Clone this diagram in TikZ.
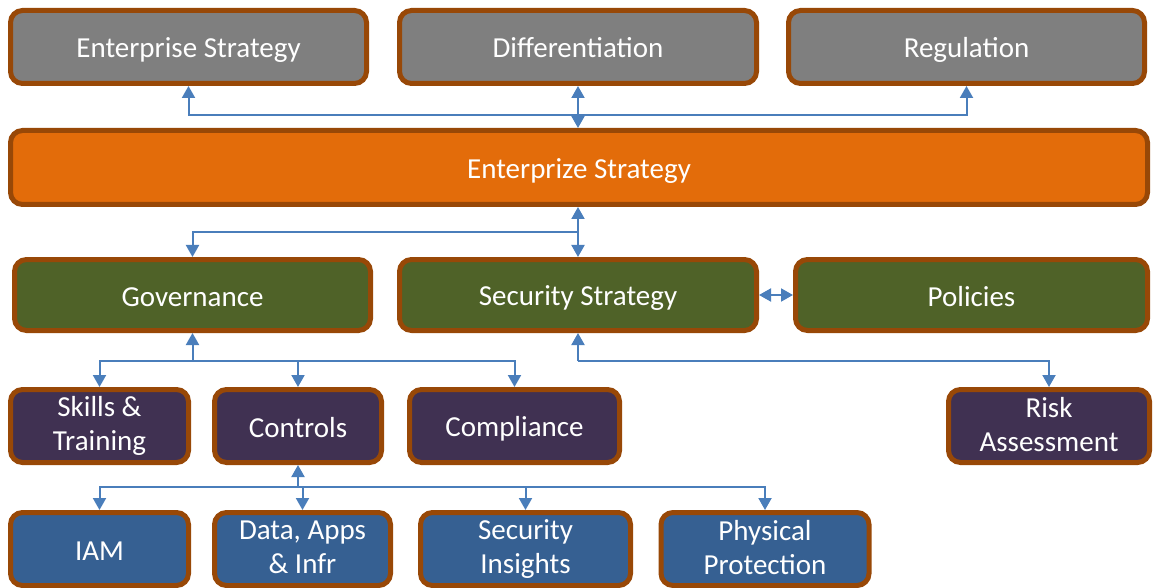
\documentclass[tikz,border=0pt]{standalone}
\usepackage{fontspec}
\setmainfont{Carlito}
\usetikzlibrary{arrows.meta}

\definecolor{rim}{HTML}{984807}
\definecolor{wire}{HTML}{4A7EBB}
\definecolor{greybox}{HTML}{7F7F7F}
\definecolor{orangebox}{HTML}{E36C0A}
\definecolor{greenbox}{HTML}{4F6228}
\definecolor{purplebox}{HTML}{403152}
\definecolor{bluebox}{HTML}{366092}

% keeps one-line and two-line labels on the same optical centre
\newcommand\boxstrut{\rule[-4pt]{0pt}{30pt}}

\begin{document}
\begin{tikzpicture}[
  x=1pt, y=-1pt,
  box/.style={draw=rim, line width=5pt, rounded corners=12pt, text=white, align=center,
    font=\fontsize{29}{34}\selectfont, inner sep=0pt, minimum height=73pt,
    execute at begin node=\boxstrut, execute at end node=\boxstrut},
  grey/.style={box, fill=greybox},
  orange/.style={box, fill=orangebox},
  green/.style={box, fill=greenbox, minimum height=71pt},
  purple/.style={box, fill=purplebox},
  blue/.style={box, fill=bluebox},
  conn/.style={draw=wire, line width=2pt, arrows={-Triangle[width=13pt, length=12pt]}},
  both/.style={conn, arrows={Triangle[width=13pt, length=12pt]-Triangle[width=13pt, length=12pt]}},
]
  \useasboundingbox (0,0) rectangle (1154,588);

  % drivers
  \node[grey, minimum width=356pt] (ent) at (188.5,47) {Enterprise Strategy};
  \node[grey, minimum width=357pt] (diff) at (578,47) {Differentiation};
  \node[grey, minimum width=356pt] (reg) at (966.5,47) {Regulation};

  \node[orange, minimum width=1137pt, minimum height=74pt] (bar) at (579,167.5) {Enterprize Strategy};

  % strategy level
  \node[green, minimum width=356pt] (gov) at (192.5,295) {Governance};
  \node[green, minimum width=357pt] (sec) at (578,295) {Security Strategy};
  \node[green, minimum width=352pt] (pol) at (971.5,295) {Policies};

  % functions
  \node[purple, minimum width=178pt] (skills) at (99.5,426) {Skills \&\\Training};
  \node[purple, minimum width=167pt] (ctrl) at (298,426) {Controls};
  \node[purple, minimum width=210pt] (comp) at (514.5,426) {Compliance};
  \node[purple, minimum width=201pt] (risk) at (1049,426) {Risk\\Assessment};

  % control areas
  \node[blue, minimum width=178pt] (iam) at (99.5,549) {IAM};
  \node[blue, minimum width=176pt] (data) at (302.5,549) {Data, Apps\\\& Infr};
  \node[blue, minimum width=210pt] (ins) at (525.5,549) {Security\\Insights};
  \node[blue, minimum width=208pt] (phys) at (765,549) {Physical\\Protection};

  % bus lines
  \coordinate (topbus) at (0,115);
  \coordinate (midbus) at (0,232);
  \coordinate (grnbus) at (0,361);
  \coordinate (purbus) at (0,487);

  \draw[both] (ent.south) |- (reg.south |- topbus) -- (reg.south);
  \draw[both] (diff.south) -- (bar.north -| diff.south);

  \draw[both] (bar.south -| sec.north) -- (sec.north);
  \draw[conn] (sec.north |- midbus) -| (gov.north);
  \draw[both] (sec.east) -- (pol.west);

  \draw[conn] (gov.south |- grnbus) -- (gov.south);
  \draw[both] (skills.north) |- (comp.north |- grnbus) -- (comp.north);
  \draw[conn] (ctrl.north |- grnbus) -- (ctrl.north);

  \draw[conn] (sec.south |- grnbus) -- (sec.south);
  \draw[conn] (sec.south |- grnbus) -| (risk.north);

  \draw[conn] (ctrl.south |- purbus) -- (ctrl.south);
  \draw[both] (iam.north) |- (phys.north |- purbus) -- (phys.north);
  \draw[conn] (data.north |- purbus) -- (data.north);
  \draw[conn] (ins.north |- purbus) -- (ins.north);
\end{tikzpicture}
\end{document}
